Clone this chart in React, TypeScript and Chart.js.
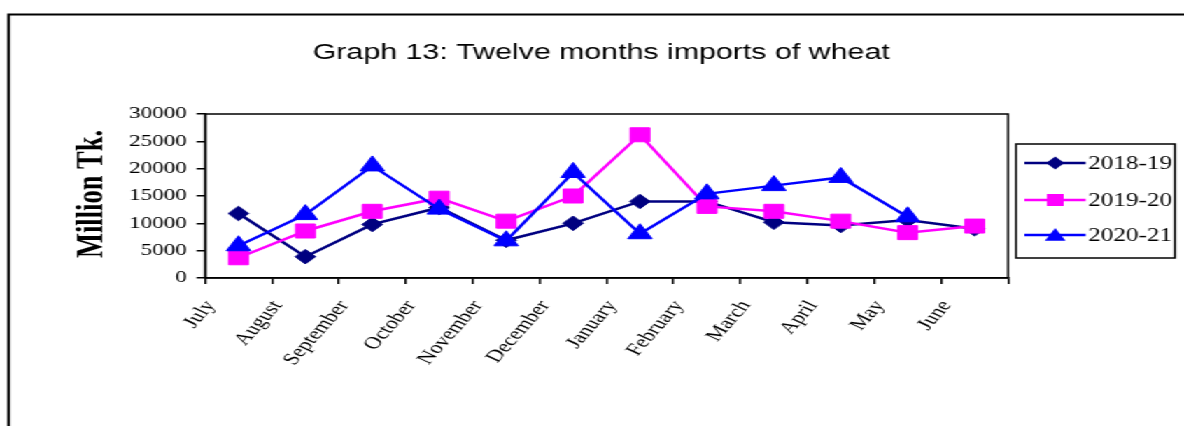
import React, { useEffect, useRef } from 'react';
import { Chart, registerables } from 'chart.js';

Chart.register(...registerables);

const months = ['July', 'August', 'September', 'October', 'November', 'December', 'January', 'February', 'March', 'April', 'May', 'June'];
const s201819 = [11800, 3900, 9800, 12900, 6900, 10000, 14000, 14000, 10200, 9600, 10600, 9000];
const s201920 = [3700, 8600, 12200, 14600, 10400, 15000, 26200, 13100, 12200, 10400, 8300, 9500];
const s202021 = [5900, 11600, 20500, 12600, 6800, 19300, 8100, 15400, 16900, 18400, 11200, null];
const yTicks = [0, 5000, 10000, 15000, 20000, 25000, 30000];
const seriesNames = ['2018-19', '2019-20', '2020-21'];
const seriesColors = ['#000080', '#FF00FF', '#0000FF'];
const seriesStyles = ['rectRot', 'rect', 'triangle'];
const titleText = 'Graph 13: Twelve months imports of wheat';
const yTitleText = 'Million Tk.';

const W = 846;
const H = 426;
const SX = 1184 / W;

function drawMarker(ctx: CanvasRenderingContext2D, style: string, x: number, y: number, r: number) {
  ctx.beginPath();
  if (style === 'rectRot') {
    ctx.moveTo(x - r, y);
    ctx.lineTo(x, y - r);
    ctx.lineTo(x + r, y);
    ctx.lineTo(x, y + r);
  } else if (style === 'rect') {
    ctx.rect(x - r, y - r, 2 * r, 2 * r);
  } else {
    ctx.moveTo(x, y - r);
    ctx.lineTo(x + r * 0.866, y + r / 2);
    ctx.lineTo(x - r * 0.866, y + r / 2);
  }
  ctx.closePath();
  ctx.fill();
}

const decor = {
  id: 'decor',
  afterDraw(chart: any) {
    const { ctx, chartArea: a } = chart;
    ctx.save();
    // outer frame
    ctx.strokeStyle = '#000';
    ctx.lineWidth = 2;
    ctx.beginPath();
    ctx.moveTo(6.2, H + 10);
    ctx.lineTo(6.2, 14.5);
    ctx.lineTo(W + 10, 14.5);
    ctx.stroke();
    // plot border
    ctx.lineWidth = 1.5;
    ctx.strokeRect(a.left, a.top, a.right - a.left, a.bottom - a.top);
    // title
    ctx.fillStyle = '#000';
    ctx.font = '21.7px "Liberation Sans", Arial, sans-serif';
    ctx.textAlign = 'center';
    ctx.textBaseline = 'alphabetic';
    ctx.fillText(titleText, 429.6, 59.3);
    // y title
    ctx.save();
    ctx.translate(72.9, 194);
    ctx.rotate(-Math.PI / 2);
    ctx.font = 'bold 26.5px "Liberation Serif", "Times New Roman", serif';
    ctx.fillText(yTitleText, 0, 0);
    ctx.restore();
    // legend
    const lx = 726, ly = 144, lw = 113.5, lh = 114;
    ctx.lineWidth = 1.5;
    ctx.strokeStyle = '#000';
    ctx.strokeRect(lx, ly, lw, lh);
    const rows = [163, 200, 235];
    const radii = [6.5, 6, 8.5];
    ctx.font = '18px "Liberation Serif", "Times New Roman", serif';
    ctx.textAlign = 'left';
    ctx.textBaseline = 'middle';
    for (let i = 0; i < seriesNames.length; i++) {
      const y = rows[i];
      ctx.strokeStyle = seriesColors[i];
      ctx.fillStyle = seriesColors[i];
      ctx.lineWidth = 2.5;
      ctx.beginPath();
      ctx.moveTo(732, y);
      ctx.lineTo(775.7, y);
      ctx.stroke();
      drawMarker(ctx, seriesStyles[i], 754, i === 2 ? y + 1.5 : y, radii[i]);
      ctx.fillStyle = '#000';
      ctx.fillText(seriesNames[i], 777.5, y + 1);
    }
    ctx.restore();
  },
};

export default function App() {
  const ref = useRef<HTMLCanvasElement | null>(null);
  useEffect(() => {
    if (!ref.current) return;
    const seriesData = [s201819, s201920, s202021];
    const radii = [7.3, 9.9, 10];
    const chart = new Chart(ref.current, {
      type: 'line',
      data: {
        labels: months,
        datasets: seriesNames.map((name, i) => ({
          label: name,
          data: seriesData[i],
          borderColor: seriesColors[i],
          backgroundColor: seriesColors[i],
          pointBackgroundColor: seriesColors[i],
          pointBorderColor: seriesColors[i],
          borderWidth: 2.5,
          pointStyle: seriesStyles[i] as any,
          pointRadius: radii[i],
          pointBorderWidth: 1,
          tension: 0,
          spanGaps: false,
          order: 3 - i,
        })),
      },
      options: {
        responsive: false,
        animation: false,
        events: [],
        layout: { padding: { left: 0, top: 114, right: W - 720.3, bottom: 0 } },
        plugins: { legend: { display: false }, tooltip: { enabled: false }, title: { display: false } },
        scales: {
          x: {
            type: 'category',
            offset: true,
            grid: { offset: true, drawOnChartArea: false, drawTicks: true, tickLength: 6, color: '#000', lineWidth: 1.5 },
            border: { display: true, color: '#000', width: 1.5 },
            ticks: {
              color: '#000',
              font: { family: '"Liberation Serif", "Times New Roman", serif', size: 17 },
              minRotation: 57,
              maxRotation: 57,
              autoSkip: false,
              labelOffset: -20,
              padding: 13,
            },
            afterFit: (s: any) => { s.height = 148; },
          },
          y: {
            min: 0,
            max: 30000,
            grid: { drawOnChartArea: false, drawTicks: true, tickLength: 6, color: '#000', lineWidth: 1.5 },
            border: { display: true, color: '#000', width: 1.5 },
            afterBuildTicks: (s: any) => { s.ticks = yTicks.map((v) => ({ value: v })); },
            ticks: {
              color: '#000',
              font: { family: '"Liberation Serif", "Times New Roman", serif', size: 16.5 },
              padding: 7,
              callback: (v: any) => String(v),
            },
            afterFit: (s: any) => { s.width = 146.5; },
          },
        },
      },
      plugins: [decor],
    });
    return () => chart.destroy();
  }, []);
  return (
    <div style={{ position: 'fixed', left: 0, top: 0, width: W, height: H, transform: `scaleX(${SX})`, transformOrigin: '0 0', background: '#fff' }}>
      <canvas ref={ref} width={W} height={H} style={{ width: W, height: H, display: 'block' }} />
    </div>
  );
}
